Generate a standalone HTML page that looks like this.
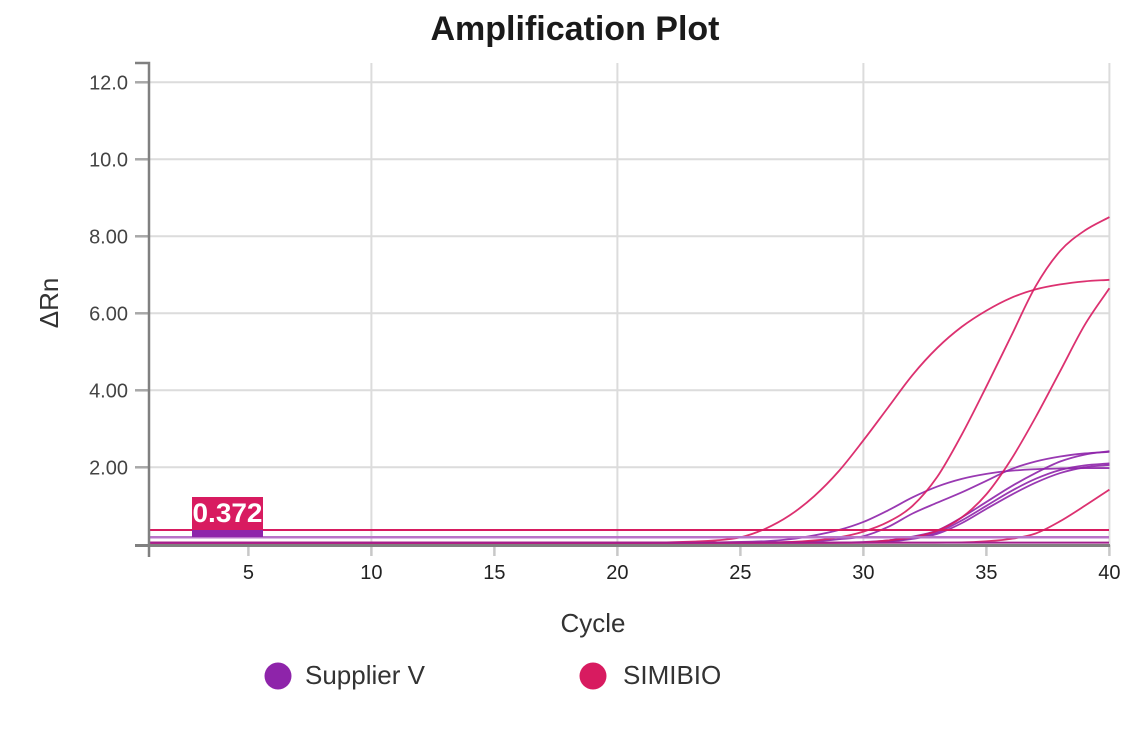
<!DOCTYPE html>
<html><head><meta charset="utf-8"><style>
html,body{margin:0;padding:0;background:#fff;}
svg{display:block;font-family:"Liberation Sans",Arial,sans-serif;}
</style></head><body>
<svg id="s" width="1146" height="732" viewBox="0 0 1146 732" xmlns="http://www.w3.org/2000/svg">
<rect width="1146" height="732" fill="#fff"/>
<text x="575" y="40" text-anchor="middle" font-size="34" font-weight="bold" fill="#1a1a1a">Amplification Plot</text>
<g id="grid" stroke="#dcdcdc" stroke-width="2">
<line x1="150" y1="82.3" x2="1109.4" y2="82.3"/>
<line x1="150" y1="159.3" x2="1109.4" y2="159.3"/>
<line x1="150" y1="236.3" x2="1109.4" y2="236.3"/>
<line x1="150" y1="313.3" x2="1109.4" y2="313.3"/>
<line x1="150" y1="390.3" x2="1109.4" y2="390.3"/>
<line x1="150" y1="467.3" x2="1109.4" y2="467.3"/>
<line x1="371.4" y1="63" x2="371.4" y2="545"/>
<line x1="617.4" y1="63" x2="617.4" y2="545"/>
<line x1="863.4" y1="63" x2="863.4" y2="545"/>
<line x1="1109.4" y1="63" x2="1109.4" y2="545"/>
</g>
<g id="curves" fill="none" stroke-width="1.8"></g>
<line x1="150" y1="530" x2="1109" y2="530" stroke="#d81b60" stroke-width="2"/>
<line x1="150" y1="537.3" x2="1109" y2="537.3" stroke="#b873c8" stroke-width="2.5"/>
<line x1="150" y1="542.6" x2="1109" y2="542.6" stroke="#a3208e" stroke-width="2"/>
<rect x="192" y="497" width="71" height="33" fill="#d81b60"/>
<rect x="192" y="530" width="71" height="7" fill="#8e24aa"/>
<text x="227.5" y="522" text-anchor="middle" font-size="27" font-weight="bold" fill="#fff" textLength="70" lengthAdjust="spacingAndGlyphs">0.372</text>
<g stroke="#c8c8c8" stroke-width="2.5">
<line x1="248.4" y1="545" x2="248.4" y2="556"/>
<line x1="371.4" y1="545" x2="371.4" y2="556"/>
<line x1="494.4" y1="545" x2="494.4" y2="556"/>
<line x1="617.4" y1="545" x2="617.4" y2="556"/>
<line x1="740.4" y1="545" x2="740.4" y2="556"/>
<line x1="863.4" y1="545" x2="863.4" y2="556"/>
<line x1="986.4" y1="545" x2="986.4" y2="556"/>
<line x1="1109.4" y1="545" x2="1109.4" y2="556"/>
</g>
<g stroke="#a8a8a8" stroke-width="2.5">
<line x1="135" y1="82.3" x2="149" y2="82.3"/>
<line x1="135" y1="159.3" x2="149" y2="159.3"/>
<line x1="135" y1="236.3" x2="149" y2="236.3"/>
<line x1="135" y1="313.3" x2="149" y2="313.3"/>
<line x1="135" y1="390.3" x2="149" y2="390.3"/>
<line x1="135" y1="467.3" x2="149" y2="467.3"/>
</g>
<path d="M135,63 H149 V545" fill="none" stroke="#808080" stroke-width="2.5"/>
<path d="M135,545.5 H1110" fill="none" stroke="#808080" stroke-width="3"/>
<line x1="149" y1="545" x2="149" y2="557" stroke="#808080" stroke-width="2.5"/>
<g font-size="20" fill="#444" text-anchor="end">
<text x="128" y="89.5">12.0</text>
<text x="128" y="166.5">10.0</text>
<text x="128" y="243.5">8.00</text>
<text x="128" y="320.5">6.00</text>
<text x="128" y="397.5">4.00</text>
<text x="128" y="474.5">2.00</text>
</g>
<g font-size="20" fill="#222" text-anchor="middle">
<text x="248.4" y="579">5</text>
<text x="371.4" y="579">10</text>
<text x="494.4" y="579">15</text>
<text x="617.4" y="579">20</text>
<text x="740.4" y="579">25</text>
<text x="863.4" y="579">30</text>
<text x="986.4" y="579">35</text>
<text x="1109.4" y="579">40</text>
</g>
<text transform="translate(58,303) rotate(-90)" text-anchor="middle" font-size="26" fill="#333">ΔRn</text>
<text x="593" y="632" text-anchor="middle" font-size="26" fill="#333">Cycle</text>
<circle cx="278" cy="676" r="13.5" fill="#8e24aa"/>
<text x="305" y="684" font-size="26" fill="#333">Supplier V</text>
<circle cx="593" cy="676" r="13.5" fill="#d81b60"/>
<text x="623" y="684" font-size="26" fill="#333">SIMIBIO</text>
</svg>
<script>
(function(){
var X=function(c){return 150+(c-1)*24.6;}, Y=function(v){return 544.3-38.5*v;};
function path(p){
 var n=p.length,m=[],i;
 for(i=0;i<n;i++){
  if(i==0) m.push((p[1][1]-p[0][1])/(p[1][0]-p[0][0]));
  else if(i==n-1) m.push((p[n-1][1]-p[n-2][1])/(p[n-1][0]-p[n-2][0]));
  else m.push((p[i+1][1]-p[i-1][1])/(p[i+1][0]-p[i-1][0]));
 }
 var d='M'+X(p[0][0]).toFixed(2)+','+Y(p[0][1]).toFixed(2);
 for(i=0;i<n-1;i++){
  var h=p[i+1][0]-p[i][0];
  d+=' C'+X(p[i][0]+h/3).toFixed(2)+','+Y(p[i][1]+m[i]*h/3).toFixed(2)+' '+X(p[i+1][0]-h/3).toFixed(2)+','+Y(p[i+1][1]-m[i+1]*h/3).toFixed(2)+' '+X(p[i+1][0]).toFixed(2)+','+Y(p[i+1][1]).toFixed(2);
 }
 return d;
}
var P='#d81b60',V='#8e24aa';
var series=[
 [V,[[1,0.04],[20,0.04],[24,0.05],[26,0.08],[27,0.13],[28,0.23],[29,0.37],[30,0.58],[31,0.88],[32,1.22],[33,1.5],[34,1.7],[35,1.83],[36,1.91],[37,1.95],[38,1.97],[39,1.98],[40,1.98]]],
 [V,[[1,0.04],[24,0.04],[26,0.05],[28,0.08],[29,0.13],[30,0.21],[31,0.45],[32,0.8],[33,1.08],[34,1.35],[35,1.65],[36,1.95],[37,2.15],[38,2.28],[39,2.36],[40,2.4]]],
 [V,[[1,0.04],[28,0.04],[30,0.06],[31,0.1],[32,0.2],[33,0.36],[34,0.7],[35,1.1],[36,1.5],[37,1.85],[38,2.15],[39,2.33],[40,2.42]]],
 [V,[[1,0.04],[28,0.04],[30,0.05],[31,0.08],[32,0.17],[33,0.31],[34,0.62],[35,1.0],[36,1.38],[37,1.7],[38,1.93],[39,2.05],[40,2.1]]],
 [V,[[1,0.04],[29,0.04],[30,0.045],[31,0.07],[32,0.14],[33,0.27],[34,0.55],[35,0.92],[36,1.28],[37,1.6],[38,1.85],[39,2.0],[40,2.06]]],
 [P,[[1,0.04],[21,0.04],[22,0.05],[23,0.07],[24,0.1],[25,0.18],[26,0.4],[27,0.75],[28,1.25],[29,1.9],[30,2.7],[31,3.55],[32,4.4],[33,5.1],[34,5.65],[35,6.07],[36,6.4],[37,6.62],[38,6.75],[39,6.83],[40,6.87]]],
 [P,[[1,0.04],[25,0.04],[27,0.06],[28,0.1],[29,0.18],[30,0.33],[31,0.58],[32,1.0],[33,1.75],[34,2.85],[35,4.1],[36,5.4],[37,6.7],[38,7.62],[39,8.15],[40,8.5]]],
 [P,[[1,0.04],[29,0.04],[30,0.05],[31,0.1],[32,0.18],[33,0.35],[34,0.7],[35,1.3],[36,2.2],[37,3.3],[38,4.5],[39,5.7],[40,6.65]]],
 [P,[[1,0.04],[32,0.04],[34,0.05],[35,0.08],[36,0.14],[37,0.28],[38,0.6],[39,1.0],[40,1.42]]]
];
var g=document.getElementById('curves'),ns='http://www.w3.org/2000/svg';
series.forEach(function(s){
 var e=document.createElementNS(ns,'path');
 e.setAttribute('d',path(s[1]));
 e.setAttribute('stroke',s[0]);
 e.setAttribute('stroke-opacity','0.9');
 g.appendChild(e);
});
})();
</script>
</body></html>
